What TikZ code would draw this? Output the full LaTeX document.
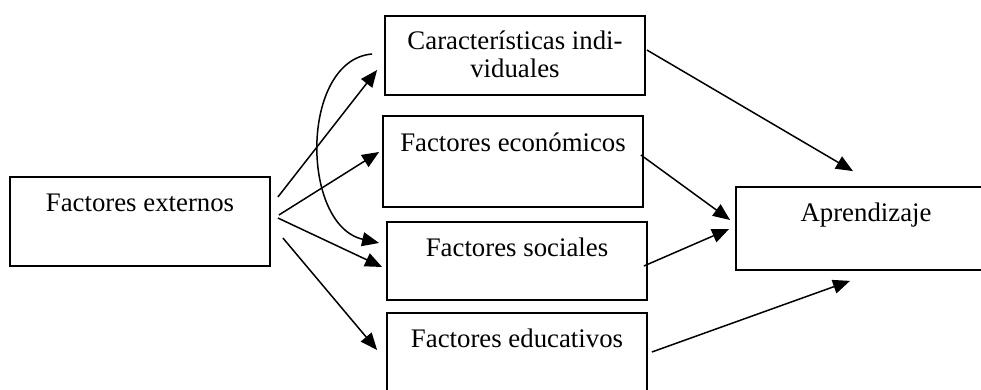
\documentclass[tikz,border=0pt]{standalone}
\usepackage{fontspec}
\setmainfont{Liberation Serif}
\usetikzlibrary{arrows.meta,calc}

\tikzset{
  box/.style={draw,line width=0.9pt,minimum width=130pt,inner sep=0pt},
  boxtext/.style={anchor=base,inner sep=0pt,align=center,font=\fontsize{13.4pt}{14pt}\selectfont},
  link/.style={line width=0.75pt,-{Triangle[length=8.5pt,width=7pt]}}
}

\begin{document}
\begin{tikzpicture}[x=0.5pt,y=-0.5pt]
  \useasboundingbox (0,0) rectangle (981,390);
  % boxes
  \node[box,minimum height=44.5pt] (ext) at (140,221.5) {};
  \node[box,minimum height=39.5pt] (car) at (515,55.5) {};
  \node[box,minimum height=45.5pt] (eco) at (513,161.5) {};
  \node[box,minimum height=39pt] (soc) at (517,261) {};
  \node[box,minimum height=45pt] (edu) at (517,358) {};
  \node[box,minimum height=41.5pt] (apr) at (866,228.5) {};
  % texts
  \node[boxtext] (exttext) at ($(ext.north)+(0,35)$) {Factores externos};
  \node[boxtext] (cartext) at ($(car.north)+(0,62)$) {Características indi-\\viduales};
  \node[boxtext] (ecotext) at ($(eco.north)+(0,36)$) {Factores económicos};
  \node[boxtext] (soctext) at ($(soc.north)+(0,35)$) {Factores sociales};
  \node[boxtext] (edutext) at ($(edu.north)+(0,35)$) {Factores educativos};
  \node[boxtext] (aprtext) at ($(apr.north)+(0,35)$) {Aprendizaje};
  % from the outside factors
  \draw[link] ($(ext.east)+(7,-24.5)$) -- ($(car.west)+(-7,14.5)$);
  \draw[link] ($(ext.east)+(8,-6.5)$) -- ($(eco.west)+(-3,-9.5)$);
  \draw[link] ($(ext.east)+(7,-3.5)$) -- ($(soc.west)+(-4,6)$);
  \draw[link] ($(ext.east)+(12,16.5)$) -- ($(edu.west)+(-9,-8)$);
  \draw[link] ($(car.west)+(-12,-1.5)$) .. controls (300,60) and (300,225) .. ($(soc.west)+(-7,-18)$);
  % into learning
  \draw[link] ($(car.east)+(1,-5.5)$) -- ($(apr.north)+(-13,-15)$);
  \draw[link] ($(eco.east)+(-3,-6.5)$) -- ($(apr.west)+(-5,-8.5)$);
  \draw[link] ($(soc.east)+(-4,5)$) -- ($(apr.west)+(-6,0.5)$);
  \draw[link] ($(edu.east)+(4,-6)$) -- ($(apr.south)+(-16,10)$);
\end{tikzpicture}
\end{document}
